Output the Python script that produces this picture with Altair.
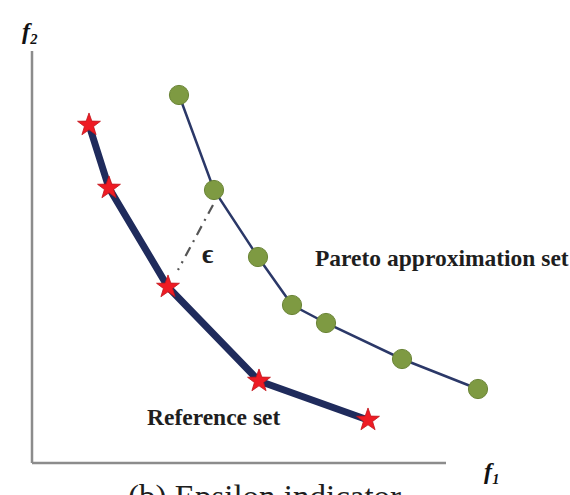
import altair as alt
import pandas as pd

# Reference set (stars) and Pareto approximation set (circles), in f1/f2 units
ref_f1 = [1.425, 1.925, 3.4, 5.675, 8.4]
ref_f2 = [8.45, 6.875, 4.4, 2.05, 1.075]
par_f1 = [3.675, 4.55, 5.65, 6.5, 7.35, 9.25, 11.15]
par_f2 = [9.2, 6.825, 5.15, 3.95, 3.5, 2.6, 1.85]

# epsilon distance segment
eps_f1 = [4.525, 3.65]
eps_f2 = [6.45, 4.825]

# axis extents
axis_len_f1 = 10.35
axis_len_f2 = 10.3

bold_labels = [
    {"text": "Pareto approximation set", "f1": 7.075, "f2": 4.925, "size": 23.5},
    {"text": "Reference set", "f1": 2.875, "f2": 0.95, "size": 23.5},
    {"text": "ϵ", "f1": 4.25, "f2": 5.0, "size": 27},
]
caption = [{"text": "(b)  Epsilon indicator", "f1": 2.4, "f2": -1.125}]
axis_labels = [
    {"text": "f₂", "f1": -0.25, "f2": 10.6},
    {"text": "f₁", "f1": 11.3, "f2": -0.4},
]

ref_df = pd.DataFrame({"f1": ref_f1, "f2": ref_f2, "order": range(len(ref_f1))})
par_df = pd.DataFrame({"f1": par_f1, "f2": par_f2, "order": range(len(par_f1))})
eps_df = pd.DataFrame({"f1": eps_f1, "f2": eps_f2, "order": [0, 1]})

xs = alt.Scale(domain=[-0.8, 13.45], nice=False, zero=False)
ys = alt.Scale(domain=[-0.8, 11.575], nice=False, zero=False)
X = lambda f="f1": alt.X(f"{f}:Q", scale=xs, axis=None)
Y = lambda f="f2": alt.Y(f"{f}:Q", scale=ys, axis=None)

axes_df = pd.DataFrame({
    "f1": [0, 0], "f2": [0, 0],
    "f1e": [axis_len_f1, 0], "f2e": [0, axis_len_f2],
})
axes = alt.Chart(axes_df).mark_rule(color="#8c8c8c", strokeWidth=2.5).encode(
    x=X(), y=Y(), x2="f1e:Q", y2="f2e:Q"
)

par_line = alt.Chart(par_df).mark_line(color="#2b3868", strokeWidth=2.5).encode(
    x=X(), y=Y(), order="order:Q"
)
ref_line = alt.Chart(ref_df).mark_line(color="#1f2b5c", strokeWidth=7, strokeCap="round").encode(
    x=X(), y=Y(), order="order:Q"
)
eps_line = alt.Chart(eps_df).mark_line(color="#555555", strokeWidth=2.2, strokeDash=[10, 6, 2, 6]).encode(
    x=X(), y=Y(), order="order:Q"
)

star_path = ("M0,-1L0.235,-0.324L0.951,-0.309L0.380,0.124L0.588,0.809L0,0.4"
             "L-0.588,0.809L-0.380,0.124L-0.951,-0.309L-0.235,-0.324Z")
stars = alt.Chart(ref_df).mark_point(
    shape=star_path, filled=True, fill="#ee1b24", stroke="#c0141b", strokeWidth=0.8,
    size=580, opacity=1
).encode(x=X(), y=Y())

circles = alt.Chart(par_df).mark_point(
    shape="circle", filled=True, fill="#7e9a42", stroke="#6a8436", strokeWidth=1,
    size=370, opacity=1
).encode(x=X(), y=Y())

texts = alt.Chart(pd.DataFrame(bold_labels)).mark_text(
    align="left", baseline="alphabetic", font="Liberation Serif", fontWeight="bold",
    color="#1e1e1e"
).encode(
    x=X(), y=Y(), text="text:N",
    size=alt.Size("size:Q", scale=None, legend=None),
)

cap_text = alt.Chart(pd.DataFrame(caption)).mark_text(
    align="left", baseline="alphabetic", font="Liberation Serif", fontSize=33,
    color="#1e1e1e"
).encode(x=X(), y=Y(), text="text:N")

ax_texts = alt.Chart(pd.DataFrame(axis_labels)).mark_text(
    align="left", baseline="alphabetic", font="Liberation Serif", fontSize=24,
    fontStyle="italic", fontWeight="bold", color="#111111"
).encode(x=X(), y=Y(), text="text:N")

chart = alt.layer(
    axes, par_line, ref_line, eps_line, circles, stars, texts, cap_text, ax_texts
).properties(
    width=570, height=495,
    autosize=alt.AutoSizeParams(type="none"),
    padding=0,
).configure_view(stroke=None)

chart.save("out.html", embed_options={"renderer": "svg", "actions": False})
